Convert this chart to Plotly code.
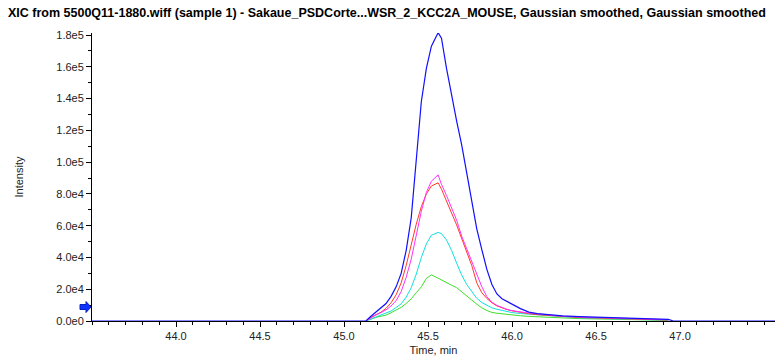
import plotly.graph_objects as go

# ---- data ----
time_min = [45.13, 45.16, 45.19, 45.22, 45.25, 45.28, 45.31, 45.34, 45.37, 45.40,
            45.43, 45.46, 45.49, 45.52, 45.56, 45.58, 45.61, 45.64, 45.67, 45.70,
            45.73, 45.76, 45.79, 45.82, 45.85, 45.88, 45.91, 45.94, 45.97, 46.00,
            46.05, 46.10, 46.15, 46.20, 46.30, 46.40, 46.50, 46.60, 46.70, 46.80, 46.93]

blue = [0, 3000, 5500, 8000, 11000, 15500, 21500, 30000, 44500, 65000,
        101000, 138000, 159000, 173000, 181500, 178000, 159000, 142000, 126000, 111000,
        94000, 75000, 58000, 45000, 32500, 23000, 17000, 14000, 12200, 10800,
        7800, 5600, 4600, 4200, 3200, 2800, 2400, 2100, 1800, 1400, 1000]

magenta = [0, 2100, 3800, 5300, 7000, 9500, 12800, 18500, 27500, 39000,
           55000, 69000, 81000, 88000, 92000, 86000, 79000, 71500, 63500, 53500,
           45500, 38000, 30000, 21600, 15300, 11800, 9800, 8400, 7300, 6500,
           5600, 5000, 4500, 4000, 3000, 2500, 2200, 2000, 1800, 1200, 800]

red = [0, 2300, 4000, 5500, 8000, 11500, 16500, 24000, 35000, 48000,
       61000, 72000, 80000, 85000, 87000, 83000, 76000, 68000, 60500, 52000,
       43500, 35000, 24000, 17800, 14200, 11500, 9500, 8200, 7200, 6400,
       5400, 4600, 4000, 3600, 2700, 2200, 1900, 1600, 1300, 900, 600]

cyan = [0, 1300, 2500, 3600, 4900, 6300, 8500, 10800, 15000, 21000,
        29500, 40000, 48500, 54000, 55800, 55000, 51000, 44500, 36500, 29000,
        23000, 18500, 14300, 11600, 9800, 8300, 7400, 6600, 5900, 5300,
        4700, 4300, 3800, 3400, 2600, 2000, 1700, 1400, 1100, 800, 500]

green = [0, 1300, 2300, 3000, 3700, 5200, 6800, 8600, 11000, 14000,
         17800, 21500, 26800, 29000, 27000, 25800, 23800, 22500, 21000, 18200,
         15600, 13200, 10600, 8300, 6600, 5400, 4900, 4500, 4100, 3800,
         3300, 2900, 2600, 2300, 1800, 1500, 1300, 1100, 900, 700, 400]

# blue baseline extends over the whole time window
blue_time = [43.5] + time_min + [46.96, 47.57]
blue_vals = [0] + blue + [0, 0]

x_tickvals = [44.0, 44.5, 45.0, 45.5, 46.0, 46.5, 47.0]
x_ticktext = ["44.0", "44.5", "45.0", "45.5", "46.0", "46.5", "47.0"]
y_tickvals = [0, 20000, 40000, 60000, 80000, 100000, 120000, 140000, 160000, 180000]
y_ticktext = ["0.0e0", "2.0e4", "4.0e4", "6.0e4", "8.0e4", "1.0e5", "1.2e5", "1.4e5", "1.6e5", "1.8e5"]

peak_label = "45.57"
threshold_level = 8800

title_text = ("XIC from 5500Q11-1880.wiff (sample 1) - Sakaue_PSDCorte...WSR_2_KCC2A_MOUSE, "
              "Gaussian smoothed, Gaussian smoothed")

# ---- figure ----
fig = go.Figure()
series = [("green", green, "#3ee02a"), ("cyan", cyan, "#10e0e0"),
          ("red", red, "#ff3a22"), ("magenta", magenta, "#ff30ff")]
for name, vals, col in series:
    fig.add_trace(go.Scatter(x=time_min, y=vals, mode="lines", name=name,
                             line=dict(color=col, width=1), showlegend=False,
                             hoverinfo="skip"))
fig.add_trace(go.Scatter(x=blue_time, y=blue_vals, mode="lines", name="blue",
                         line=dict(color="#1010ff", width=1.2), showlegend=False,
                         hoverinfo="skip"))

pk = max(range(len(blue)), key=lambda i: blue[i])
fig.add_annotation(x=time_min[pk], y=blue[pk], text=peak_label, showarrow=True,
                   arrowhead=0, arrowwidth=1, arrowcolor="#444", ax=33, ay=27,
                   standoff=0, font=dict(family="Liberation Sans, Arial", size=11, color="#222"))

# threshold arrow marker on the left of the y axis
fig.add_shape(type="path", xref="paper", yref="y", xsizemode="pixel", ysizemode="pixel",
              xanchor=0, yanchor=threshold_level,
              path="M-12,-2.5 L-6,-2.5 L-6,-5.5 L-1,0 L-6,5.5 L-6,2.5 L-12,2.5 Z",
              fillcolor="#1030ff", line=dict(color="#0020c0", width=1))

axis_font = dict(family="Liberation Sans, Arial", size=11, color="#222")
fig.update_layout(
    width=775, height=356,
    margin=dict(l=92, r=0, t=33, b=35),
    paper_bgcolor="white", plot_bgcolor="white",
    title=dict(text="<b>" + title_text + "</b>", x=8 / 775, xanchor="left", xref="container",
               y=0.965, yanchor="middle",
               font=dict(family="Liberation Sans, Arial", size=12.5, color="black")),
    xaxis=dict(range=[43.5, 47.565], showgrid=False, zeroline=False,
               showline=True, linecolor="black", linewidth=1,
               ticks="outside", ticklen=5, tickcolor="black",
               tickvals=x_tickvals, ticktext=x_ticktext, tickfont=axis_font,
               minor=dict(ticks="outside", ticklen=3, tickcolor="black", dtick=0.1, tick0=44.0, showgrid=False),
               title=dict(text="Time, min", font=axis_font, standoff=6)),
    yaxis=dict(range=[0, 181300], showgrid=False, zeroline=False,
               showline=True, linecolor="black", linewidth=1,
               ticks="outside", ticklen=5, tickcolor="black",
               tickvals=y_tickvals, ticktext=y_ticktext, tickfont=axis_font,
               minor=dict(ticks="outside", ticklen=3, tickcolor="black", dtick=10000, tick0=0, showgrid=False),
               title=dict(text="Intensity", font=axis_font, standoff=30)),
)

fig.write_html("out.html")
